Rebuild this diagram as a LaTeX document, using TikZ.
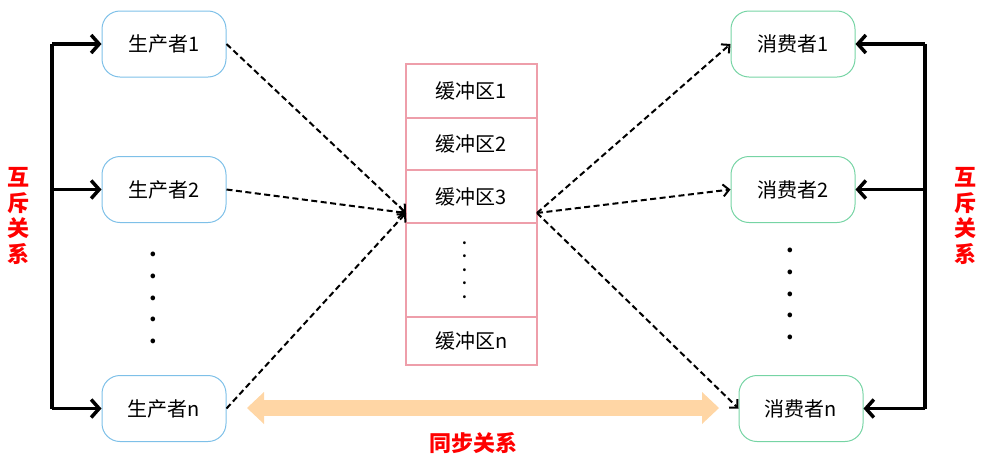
\documentclass[tikz,border=0pt]{standalone}
\usepackage{fontspec}
\newfontfamily\cjk{Noto Sans CJK SC}
\usetikzlibrary{arrows.meta,positioning,calc}
\definecolor{prodblue}{RGB}{126,192,232}
\definecolor{consgreen}{RGB}{118,212,164}
\definecolor{bufpink}{RGB}{238,158,170}
\definecolor{syncorange}{RGB}{255,214,165}

\begin{document}
\begin{tikzpicture}[x=1pt,y=1pt,yscale=-1,
  box/.style={line width=1pt,rounded corners=18pt,minimum width=124pt,minimum height=66pt,font=\cjk\fontsize{20}{22}\selectfont},
  prod/.style={box,draw=prodblue},
  cons/.style={box,draw=consgreen},
  bufcell/.style={draw=bufpink,line width=2pt,minimum width=131pt,inner sep=0pt,outer sep=0pt,font=\cjk\fontsize{20}{22}\selectfont},
  vdots/.style={align=center,inner sep=0pt,font=\cjk\bfseries\fontsize{#1}{#1}\selectfont},
  mutex/.style={line width=3.5pt,-{Straight Barb[length=8pt,width=18pt]}},
  flow/.style={line width=2pt,dash pattern=on 6pt off 3.5pt,-{Straight Barb[length=6pt,width=12pt]}},
  sync/.style={draw=syncorange,line width=16pt,{Triangle[length=17pt,width=32pt,line width=0pt 0]}-{Triangle[length=17pt,width=32pt,line width=0pt 0]}},
  relation/.style={text=red,align=center,inner sep=0pt,font=\cjk\bfseries\fontsize{22}{25.5}\selectfont}]
\useasboundingbox (0,0) rectangle (987,464);

% producers
\node[prod] (p1) at (164,44) {生产者1};
\node[prod] (p2) at (164,189.5) {生产者2};
\node[vdots=21.7] (pdots) at (153,298) {.\\.\\.\\.\\.};
\node[prod] (pn) at (164,408.5) {生产者n};

% buffer
\node[bufcell,minimum height=54pt] (buf1) at (471.5,91) {缓冲区1};
\node[bufcell,minimum height=52pt,below=0pt of buf1] (buf2) {缓冲区2};
\node[bufcell,minimum height=53pt,below=0pt of buf2] (buf3) {缓冲区3};
\node[bufcell,minimum height=94pt,below=0pt of buf3] (bufdots) {};
\node[bufcell,minimum height=48pt,below=0pt of bufdots] (bufn) {缓冲区n};
\node[vdots=13.5] at ($(bufdots.center)+(-7,0)$) {.\\.\\.\\.\\.};

% consumers
\node[cons] (c1) at (793,44) {消费者1};
\node[cons] (c2) at (793,189.5) {消费者2};
\node[vdots=21.7] (cdots) at (790,294) {.\\.\\.\\.\\.};
\node[cons] (cn) at (801,408.5) {消费者n};

% mutual exclusion
\coordinate (mxL) at (52,0);
\coordinate (mxR) at (925,0);
\draw[line width=3.5pt] (p1.west -| mxL) -- (pn.west -| mxL);
\draw[mutex] (p1.west -| mxL) -- (p1.west);
\draw[mutex] (p2.west -| mxL) -- (p2.west);
\draw[mutex] (pn.west -| mxL) -- (pn.west);
\draw[line width=3.5pt] (c1.east -| mxR) -- (cn.east -| mxR);
\draw[mutex] (c1.east -| mxR) -- (c1.east);
\draw[mutex] (c2.east -| mxR) -- (c2.east);
\draw[mutex] (cn.east -| mxR) -- (cn.east);
\node[relation] (mutexL) at (19,216) {互\\斥\\关\\系};
\node[relation] (mutexR) at (965,216) {互\\斥\\关\\系};

% data flow
\coordinate (bufin) at ($(buf3.west)+(0,16.5)$);
\coordinate (bufout) at ($(buf3.east)+(0,16.5)$);
\draw[flow] (p1.east) -- (bufin);
\draw[flow] (p2.east) -- (bufin);
\draw[flow] (pn.east) -- (bufin);
\draw[flow] (bufout) -- (c1.west);
\draw[flow] (bufout) -- (c2.west);
\draw[flow] (bufout) -- (cn.west);

% synchronization
\coordinate (syncL) at (247,408);
\coordinate (syncR) at (719,408);
\draw[sync] (syncL) -- (syncR);
\node[relation] (synctext) at (473,443) {同步关系};
\end{tikzpicture}
\end{document}
